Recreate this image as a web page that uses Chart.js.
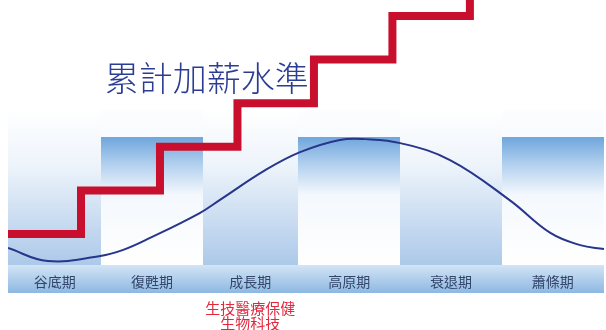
<!DOCTYPE html>
<html><head><meta charset="utf-8">
<script src="https://cdn.jsdelivr.net/npm/chart.js@4/dist/chart.umd.min.js"></script>
<style>html,body{margin:0;padding:0;background:#fff;overflow:hidden}#wrap{width:606px;height:330px;position:relative}</style>
</head><body><div id="wrap"><canvas id="c" width="606" height="330"></canvas></div>
<script>
// ---- data ----
const phases = ['谷底期', '復甦期', '成長期', '高原期', '衰退期', '蕭條期'];
const phaseBounds = [0, 0.94, 1.96, 2.92, 3.95, 4.97, 6];
const sectorNotes = ['', '', ['生技醫療保健', '生物科技'], '', '', ''];
const seriesTitle = '累計加薪水準';
// cumulative salary staircase: where each raise happens (phase units) and the level reached
const stairX = [0, 0.735, 1.53, 2.31, 3.08, 3.87, 4.65];
const stairLevel = [1, 2, 3, 4, 5, 6, 7];
// economic cycle curve (phase units, relative level 0-100)
const cycleX = [0, 0.4, 0.93, 1.16, 1.43, 1.93, 2.13, 2.59, 2.94, 3.34, 3.6, 3.95, 4.45, 5.05, 5.46, 5.76, 6];
const cycleY = [6.4, 1.5, 3.4, 5.7, 10.2, 19.6, 24.5, 35.8, 42.6, 47.2, 47.5, 46.0, 39.6, 24.5, 12.1, 7.5, 6.0];

const CJK = '"Noto Sans CJK TC", "Noto Sans CJK SC", sans-serif';
const centers = phases.map((p, i) => (phaseBounds[i] + phaseBounds[i + 1]) / 2);

const backdrop = {
  id: 'backdrop',
  beforeDraw(chart) {
    const {ctx, chartArea: a, scales} = chart;
    const xv = scales.xv, yc = scales.yc, xs = scales.x;
    const lightTop = yc.getPixelForValue(58.5);
    const darkTop = yc.getPixelForValue(48.3);
    const bottom = a.bottom;
    const left = xv.getPixelForValue(0), right = xv.getPixelForValue(6);
    ctx.save();
    let g = ctx.createLinearGradient(0, lightTop, 0, bottom);
    g.addColorStop(0, '#fbfdff');
    g.addColorStop(1, '#eef5fc');
    ctx.fillStyle = g;
    ctx.fillRect(left, lightTop, right - left, bottom - lightTop);
    phases.forEach((p, i) => {
      const x0 = Math.round(xv.getPixelForValue(phaseBounds[i]));
      const x1 = Math.round(xv.getPixelForValue(phaseBounds[i + 1]));
      if (i % 2 === 0) {
        const gr = ctx.createLinearGradient(0, lightTop, 0, bottom);
        gr.addColorStop(0, 'rgba(255,255,255,1)');
        gr.addColorStop(0.35, '#eef4fb');
        gr.addColorStop(1, '#acc9e9');
        ctx.fillStyle = gr;
        ctx.fillRect(x0, lightTop, x1 - x0, bottom - lightTop);
      } else {
        const gr = ctx.createLinearGradient(0, darkTop, 0, bottom);
        gr.addColorStop(0, '#6fa6dc');
        gr.addColorStop(0.22, '#b4d1ef');
        gr.addColorStop(0.45, '#f4f8fd');
        gr.addColorStop(1, '#ffffff');
        ctx.fillStyle = gr;
        ctx.fillRect(x0, darkTop, x1 - x0, bottom - darkTop);
      }
    });
    const bg = ctx.createLinearGradient(0, xs.top, 0, xs.bottom);
    bg.addColorStop(0, '#d3e4f5');
    bg.addColorStop(1, '#8db8e2');
    ctx.fillStyle = bg;
    ctx.fillRect(left, xs.top, right - left, xs.bottom - xs.top);
    ctx.restore();
  },
  afterDraw(chart) {
    const {ctx, scales} = chart;
    ctx.save();
    ctx.font = '300 34px ' + CJK;
    ctx.fillStyle = '#2a3d92';
    ctx.textAlign = 'center';
    ctx.textBaseline = 'middle';
    ctx.fillText(seriesTitle, scales.xv.getPixelForValue(2.0), scales.ys.getPixelForValue(4.58));
    ctx.restore();
  }
};

function labelAxis(list, weight, color, font, padding, height) {
  return {
    type: 'linear', min: 0, max: 6, position: 'bottom', weight,
    grid: {display: false, drawTicks: false}, border: {display: false},
    afterBuildTicks(s) { s.ticks = centers.map(v => ({value: v})); },
    ticks: {color, font, padding, maxRotation: 0, minRotation: 0, autoSkip: false,
      callback: (v, i) => list[i]},
    afterFit(s) { s.height = height; }
  };
}

new Chart(document.getElementById('c'), {
  type: 'line',
  data: {
    datasets: [
      {
        label: seriesTitle,
        data: stairX.map((x, i) => ({x, y: stairLevel[i]})),
        xAxisID: 'xv', yAxisID: 'ys',
        stepped: 'before',
        borderColor: '#c8102e',
        borderWidth: 8,
        borderJoinStyle: 'miter',
        borderCapStyle: 'butt',
        pointRadius: 0,
        fill: false,
        order: 2
      },
      {
        label: 'cycle',
        data: cycleX.map((x, i) => ({x, y: cycleY[i]})),
        xAxisID: 'xv', yAxisID: 'yc',
        borderColor: '#27358a',
        borderWidth: 2,
        tension: 0.4,
        pointRadius: 0,
        fill: false,
        order: 1
      }
    ]
  },
  options: {
    responsive: false,
    devicePixelRatio: 1,
    animation: false,
    layout: {padding: {left: 8, right: 2, top: 0, bottom: 0}},
    plugins: {legend: {display: false}, tooltip: {enabled: false}},
    scales: {
      xv: {type: 'linear', min: 0, max: 6, display: false},
      ys: {type: 'linear', min: 0.289, max: 6.367, display: false},
      yc: {type: 'linear', min: 0, max: 100, display: false},
      x: labelAxis(phases, 1, '#33466a', {size: 14, family: CJK}, 8, 28),
      x2: labelAxis(sectorNotes, 2, '#e3283d', {size: 15, family: CJK, lineHeight: 1.05}, 7, 37)
    }
  },
  plugins: [backdrop]
});
</script>
</body></html>
